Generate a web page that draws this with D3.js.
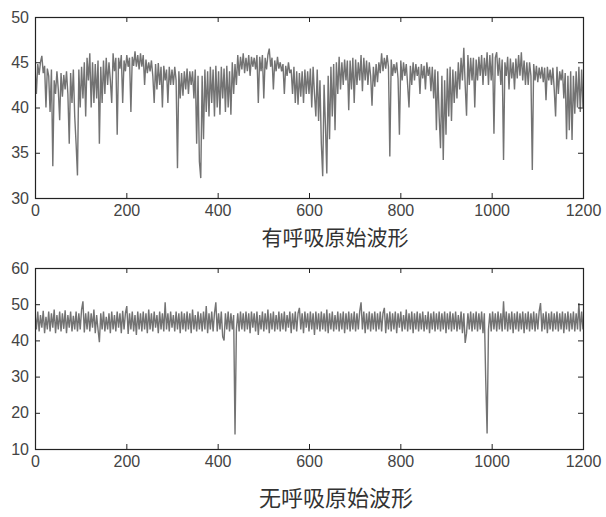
<!DOCTYPE html>
<html>
<head>
<meta charset="utf-8">
<script src="https://cdn.jsdelivr.net/npm/d3@7/dist/d3.min.js"></script>
<style>
  html, body { margin: 0; padding: 0; background: #fff; }
  svg { display: block; }
  .tick text { font-family: "Liberation Sans", Arial, sans-serif; font-size: 16px; fill: #444; }
  .tick line { stroke: #222; }
  .title { font-family: "Noto Sans CJK SC", sans-serif; fill: #333; }
</style>
</head>
<body>
<script>
const sampleStep = 3;

const breathingSignal = [
  44.5, 41.5, 44.8, 43.6, 45.0, 45.7, 43.8, 44.6, 40.0, 44.3,
  43.5, 39.5, 44.2, 33.5, 43.0, 41.5, 44.0, 42.0, 38.6, 43.8,
  41.2, 43.6, 42.0, 44.0, 41.5, 36.0, 43.8, 40.5, 44.2, 39.0,
  36.0, 32.5, 44.2, 40.0, 44.5, 41.0, 45.0, 39.0, 45.5, 43.0,
  46.0, 40.0, 45.0, 40.5, 44.8, 41.0, 45.2, 36.0, 44.5, 40.5,
  45.2, 41.5, 45.5, 42.5, 45.0, 43.0, 40.5, 46.0, 44.0, 45.5,
  37.0, 45.5, 44.3, 45.8, 40.5, 45.2, 44.0, 45.8, 44.5, 45.5,
  39.5, 45.6, 44.6, 46.2, 44.5, 45.8, 44.2, 46.0, 44.5, 45.8,
  42.5, 45.3, 43.8, 45.0, 44.0, 45.2, 43.5, 40.5, 44.8, 42.0,
  44.9, 42.5, 44.5, 40.0, 44.6, 43.0, 44.2, 40.5, 44.5, 42.5,
  44.2, 42.5, 44.5, 43.0, 33.3, 44.0, 41.0, 43.8, 41.3, 44.0,
  42.0, 44.3, 41.5, 44.0, 42.5, 44.0, 41.0, 44.2, 36.0, 43.5,
  34.0, 32.2, 43.5, 36.5, 44.2, 39.5, 44.0, 39.0, 44.5, 40.5,
  44.2, 39.0, 44.6, 40.0, 44.0, 39.2, 44.5, 41.0, 44.3, 39.5,
  44.6, 40.0, 44.0, 39.2, 45.0, 41.5, 44.8, 42.5, 45.8, 43.5,
  45.6, 44.2, 46.0, 43.8, 45.5, 44.0, 45.8, 43.5, 45.6, 44.5,
  45.5, 44.2, 45.8, 40.5, 45.6, 44.0, 45.8, 41.0, 45.5, 44.2,
  45.8, 46.5, 44.5, 45.5, 42.0, 45.2, 44.0, 45.6, 44.3, 45.0,
  44.0, 44.8, 41.5, 44.6, 43.5, 45.0, 43.8, 44.2, 41.5, 44.5,
  40.5, 44.0, 40.3, 43.8, 41.2, 44.0, 40.5, 44.2, 41.5, 44.0,
  41.5, 44.3, 40.0, 44.5, 41.5, 39.0, 44.2, 38.5, 43.0, 36.0,
  32.4, 42.5, 38.0, 32.7, 43.5, 36.5, 44.5, 39.0, 44.8, 37.5,
  45.0, 41.5, 45.6, 42.0, 45.0, 42.5, 45.3, 43.0, 45.2, 39.7,
  45.2, 42.0, 45.5, 40.5, 45.3, 42.5, 45.0, 43.0, 45.8, 41.8,
  45.5, 43.0, 45.2, 42.5, 45.0, 43.5, 40.2, 44.5, 42.3, 44.8,
  42.8, 45.0, 43.8, 46.0, 44.0, 45.5, 44.3, 45.8, 44.5, 34.6,
  45.3, 43.5, 44.8, 43.8, 45.0, 43.2, 37.0, 45.2, 43.0, 45.0,
  43.5, 44.8, 42.5, 40.0, 44.6, 42.5, 45.0, 43.0, 44.8, 43.5,
  44.5, 41.5, 44.8, 43.2, 44.6, 42.0, 45.0, 43.5, 44.5, 41.8,
  44.5, 41.0, 44.2, 37.5, 44.0, 39.0, 35.5, 43.5, 34.2, 43.0,
  37.0, 44.3, 39.0, 44.5, 38.5, 44.2, 40.5, 44.0, 41.0, 45.0,
  42.0, 45.5, 43.0, 46.6, 42.5, 39.1, 45.8, 42.5, 45.5, 43.0,
  45.5, 40.0, 45.3, 43.0, 45.6, 43.5, 45.8, 42.5, 45.5, 43.5,
  46.1, 42.5, 45.8, 43.0, 46.0, 37.1, 45.5, 46.1, 43.5, 45.5,
  42.5, 45.3, 34.2, 45.0, 43.5, 45.6, 42.0, 45.4, 43.2, 45.0,
  42.0, 45.4, 43.2, 45.8, 43.5, 46.1, 43.0, 45.2, 42.5, 45.0,
  42.5, 45.0, 43.5, 33.1, 44.8, 43.0, 44.6, 42.8, 44.4, 43.2,
  44.5, 42.8, 44.4, 40.8, 44.5, 43.0, 44.2, 42.5, 44.4, 42.0,
  39.0, 44.5, 41.5, 44.0, 43.0, 44.2, 41.0, 43.8, 36.5, 43.5,
  37.5, 44.0, 36.4, 43.5, 39.3, 44.0, 40.0, 44.5, 39.5, 44.2,
  40.0
];

const apneaSignal = [
  47.5, 43.0, 48.0, 42.5, 47.0, 43.5, 48.2, 42.0, 46.5, 43.0,
  48.0, 42.5, 47.5, 43.5, 48.5, 42.0, 47.0, 43.0, 48.0, 42.5,
  47.5, 43.2, 48.3, 42.0, 47.0, 43.5, 48.0, 42.5, 46.8, 43.0,
  48.0, 42.5, 47.5, 43.0, 48.5, 50.8, 42.2, 47.5, 43.0, 48.0,
  42.5, 47.5, 43.5, 48.5, 42.0, 47.0, 43.0, 39.5, 47.5, 43.0,
  48.0, 42.5, 46.5, 43.0, 47.5, 42.0, 48.0, 43.0, 47.0, 42.5,
  48.0, 43.5, 47.5, 42.0, 48.2, 43.0, 47.5, 49.5, 41.8, 47.5,
  43.0, 48.0, 42.5, 47.0, 41.5, 48.0, 43.0, 47.5, 42.5, 48.0,
  43.0, 47.5, 42.0, 48.5, 43.0, 47.5, 42.5, 48.0, 43.5, 47.0,
  42.0, 48.0, 43.0, 47.5, 42.5, 50.5, 43.0, 47.5, 42.5, 48.0,
  43.5, 47.0, 42.5, 48.0, 43.0, 47.5, 42.0, 48.0, 43.0, 47.5,
  42.5, 48.0, 43.0, 47.5, 42.0, 48.5, 43.0, 47.0, 42.5, 48.0,
  43.0, 47.5, 42.5, 48.0, 43.0, 49.5, 42.0, 47.5, 43.0, 48.0,
  42.5, 47.5, 50.5, 42.5, 47.5, 43.0, 48.0, 41.0, 40.0, 47.5,
  43.0, 48.0, 42.5, 47.5, 43.0, 47.0, 14.0, 43.0, 47.5, 42.5,
  48.0, 43.0, 47.5, 42.5, 48.0, 43.0, 47.5, 42.0, 48.0, 43.5,
  47.5, 42.5, 48.0, 41.5, 47.0, 43.0, 48.0, 42.5, 47.5, 43.0,
  48.5, 42.0, 47.5, 43.0, 48.0, 42.5, 47.0, 43.0, 48.0, 42.5,
  47.5, 43.0, 48.0, 42.5, 47.0, 43.5, 48.0, 42.0, 47.5, 43.0,
  48.0, 42.5, 47.5, 49.0, 43.0, 47.5, 42.0, 48.0, 43.5, 47.5,
  42.5, 48.0, 43.0, 47.5, 41.5, 48.0, 43.0, 47.5, 42.5, 48.0,
  43.0, 47.5, 42.5, 48.5, 42.0, 47.5, 43.0, 48.0, 42.5, 47.0,
  43.0, 48.0, 42.5, 47.5, 43.0, 48.0, 42.0, 47.5, 43.0, 48.0,
  42.5, 47.5, 43.0, 48.0, 42.5, 47.5, 43.0, 48.0, 50.5, 43.0,
  48.0, 42.0, 47.5, 43.0, 48.0, 42.5, 47.5, 43.0, 48.0, 42.5,
  47.5, 43.0, 48.0, 42.5, 47.5, 49.0, 42.0, 47.5, 43.0, 48.0,
  42.5, 47.5, 43.0, 48.0, 42.0, 47.5, 43.5, 48.0, 42.5, 47.0,
  43.0, 48.5, 42.5, 47.5, 43.0, 48.0, 42.0, 47.5, 43.0, 48.0,
  42.5, 47.5, 43.0, 48.0, 42.5, 47.0, 43.0, 48.0, 42.0, 47.5,
  43.0, 48.0, 42.5, 47.5, 43.0, 48.0, 42.5, 47.5, 43.0, 48.0,
  42.0, 47.5, 43.0, 48.0, 42.5, 47.5, 43.0, 48.0, 42.5, 47.0,
  43.0, 48.0, 42.0, 47.5, 39.3, 42.0, 47.5, 43.0, 48.0, 42.5,
  47.5, 43.0, 48.0, 42.5, 47.5, 43.0, 48.0, 42.0, 47.5, 29.0,
  14.3, 43.0, 47.5, 42.5, 48.0, 43.0, 47.5, 42.5, 48.0, 43.0,
  47.5, 42.5, 50.8, 43.0, 48.0, 42.5, 47.5, 43.0, 48.0, 42.0,
  47.5, 43.0, 48.0, 42.5, 47.5, 43.0, 48.0, 42.0, 47.5, 43.0,
  48.0, 42.5, 47.5, 43.0, 48.0, 42.5, 47.5, 43.0, 48.0, 50.3,
  42.5, 47.5, 43.0, 48.0, 42.0, 47.5, 43.0, 48.0, 42.5, 47.5,
  43.0, 48.0, 42.5, 47.5, 43.0, 48.0, 42.0, 47.5, 43.0, 48.0,
  42.5, 47.5, 43.0, 48.0, 42.5, 47.5, 43.0, 50.3, 42.5, 48.0,
  43.0
];

const xTicks = [0, 200, 400, 600, 800, 1000, 1200];
const topYTicks = [30, 35, 40, 45, 50];
const bottomYTicks = [10, 20, 30, 40, 50, 60];
const titles = ["有呼吸原始波形", "无呼吸原始波形"];

// ---- Layout ----
const W = 606, H = 517;
const svg = d3.select("body").append("svg").attr("width", W).attr("height", H);
svg.append("rect").attr("width", W).attr("height", H).attr("fill", "#fff");

const panels = [
  { data: breathingSignal, yDomain: [30, 50], yTicks: topYTicks, top: 17, bottom: 198, title: titles[0], titleX: 335, titleY: 245, titleSize: 21 },
  { data: apneaSignal, yDomain: [10, 60], yTicks: bottomYTicks, top: 268, bottom: 449, title: titles[1], titleX: 336, titleY: 506, titleSize: 22 }
];
const left = 35, right = 583;

panels.forEach(p => {
  const x = d3.scaleLinear().domain([0, 1200]).range([left, right]);
  const y = d3.scaleLinear().domain(p.yDomain).range([p.bottom, p.top]);
  const g = svg.append("g");

  const clipId = "clip" + p.top;
  svg.append("clipPath").attr("id", clipId).append("rect")
    .attr("x", left).attr("y", p.top).attr("width", right - left).attr("height", p.bottom - p.top);

  const line = d3.line().x((d, i) => x(i * sampleStep)).y(d => y(d));
  g.append("path").datum(p.data)
    .attr("d", line)
    .attr("fill", "none")
    .attr("stroke", "#737373")
    .attr("stroke-width", 1.4)
    .attr("stroke-linejoin", "bevel")
    .attr("clip-path", `url(#${clipId})`);

  // axes (ticks inward, MATLAB style)
  g.append("g").attr("transform", `translate(0,${p.bottom})`)
    .call(d3.axisBottom(x).tickValues(xTicks).tickSize(-5).tickPadding(7).tickFormat(d3.format("d")))
    .call(s => s.select(".domain").remove());
  g.append("g").attr("transform", `translate(0,${p.top})`)
    .call(d3.axisTop(x).tickValues(xTicks).tickSize(-5).tickFormat(""))
    .call(s => s.select(".domain").remove());
  g.append("g").attr("transform", `translate(${left},0)`)
    .call(d3.axisLeft(y).tickValues(p.yTicks).tickSize(-5).tickPadding(6).tickFormat(d3.format("d")))
    .call(s => s.select(".domain").remove());
  g.append("g").attr("transform", `translate(${right},0)`)
    .call(d3.axisRight(y).tickValues(p.yTicks).tickSize(-5).tickFormat(""))
    .call(s => s.select(".domain").remove());

  g.append("rect")
    .attr("x", left + 0.5).attr("y", p.top + 0.5)
    .attr("width", right - left).attr("height", p.bottom - p.top)
    .attr("fill", "none").attr("stroke", "#222").attr("stroke-width", 1.2);

  svg.append("text").attr("class", "title")
    .attr("x", p.titleX).attr("y", p.titleY)
    .attr("text-anchor", "middle")
    .style("font-size", p.titleSize + "px")
    .text(p.title);
});
</script>
</body>
</html>
